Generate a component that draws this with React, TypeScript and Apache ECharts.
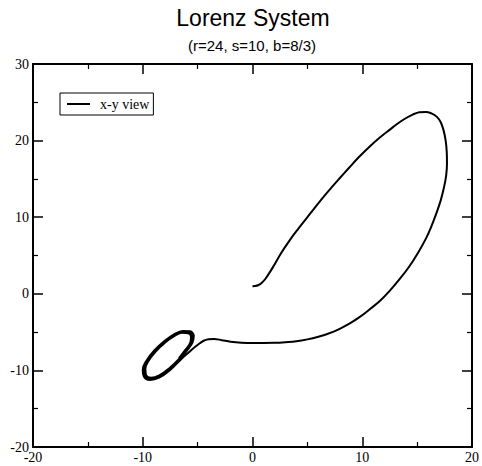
import React, { useEffect, useRef } from "react";
import * as echarts from "echarts";

const titleText = "Lorenz System";
const subtitleText = "(r=24, s=10, b=8/3)";
const seriesName = "x-y view";

const xTicks = [-20, -10, 0, 10, 20];
const yTicks = [-20, -10, 0, 10, 20, 30];

// Main excursion
const pathX = [0, 0.25, 0.55, 0.85, 1.2, 1.85, 2.6, 3.37, 4.15, 4.92, 5.65, 6.38, 7.15, 7.92, 8.8, 9.7, 10.66, 11.6, 12.48, 13.3, 14.0, 14.6, 15.2, 15.8, 16.3, 16.8, 17.15, 17.4, 17.6, 17.7, 17.72, 17.65, 17.45, 17.15, 16.75, 16.3, 15.8, 15.1, 14.3, 13.4, 12.48, 11.6, 10.66, 9.75, 8.83, 7.9, 7.0, 6.0, 5.0, 4.0, 3.0, 2.0, 1.0, 0.0, -1.0, -2.0, -2.8, -3.5, -4.0, -4.4, -4.8, -5.25, -5.74];
const pathY = [1, 1.02, 1.15, 1.45, 2.0, 3.45, 5.3, 6.95, 8.45, 9.85, 11.2, 12.5, 13.8, 15.05, 16.45, 17.85, 19.2, 20.4, 21.4, 22.3, 22.95, 23.4, 23.7, 23.75, 23.55, 23.1, 22.4, 21.4, 20.0, 18.5, 17.0, 15.5, 13.9, 12.2, 10.5, 8.8, 7.2, 5.4, 3.6, 1.9, 0.35, -0.95, -2.05, -3.05, -3.9, -4.6, -5.15, -5.6, -5.95, -6.2, -6.32, -6.4, -6.42, -6.42, -6.38, -6.25, -6.05, -5.9, -5.92, -6.1, -6.45, -6.95, -7.57];

// Spiral loops around the left fixed point
const loopX = [
  -6.55, -7.5, -8.5, -9.35, -9.9, -10.0, -9.65, -8.95, -8.05, -7.15, -6.35, -5.7, -5.35, -5.45, -5.85,
  -6.6, -7.55, -8.5, -9.3, -9.8, -9.88, -9.55, -8.88, -8.0, -7.12, -6.38, -5.78, -5.47, -5.55, -5.95,
  -6.65, -7.6, -8.5, -9.25, -9.7, -9.76, -9.45, -8.8, -7.95, -7.1, -6.42, -5.85, -5.6, -5.68, -6.05, -6.7,
];
const loopY = [
  -8.6, -9.95, -10.95, -11.25, -10.8, -9.9, -8.7, -7.4, -6.2, -5.3, -4.85, -4.9, -5.45, -6.3, -7.2,
  -8.5, -9.85, -10.8, -11.1, -10.7, -9.85, -8.7, -7.45, -6.28, -5.4, -4.97, -5.02, -5.55, -6.35, -7.2,
  -8.45, -9.75, -10.65, -10.95, -10.6, -9.8, -8.7, -7.5, -6.35, -5.5, -5.1, -5.15, -5.65, -6.4, -7.2, -8.4,
];

const SERIF = "'Liberation Serif', 'DejaVu Serif', serif";
const SANS = "'Liberation Sans', Arial, sans-serif";

function makeAxis(kind: "x" | "y", position: string, showLabel: boolean, ticks: number[]) {
  return {
    type: "value",
    position,
    min: ticks[0],
    max: ticks[ticks.length - 1],
    interval: 10,
    axisLine: { show: true, onZero: false, lineStyle: { color: "#000", width: 2 } },
    axisTick: { show: true, inside: true, length: 10, lineStyle: { color: "#000", width: 1.5 } },
    minorTick: { show: true, splitNumber: 2, length: 5, lineStyle: { color: "#000", width: 1.2 } },
    splitLine: { show: false },
    minorSplitLine: { show: false },
    axisLabel: {
      show: showLabel,
      color: "#000",
      fontFamily: SERIF,
      fontSize: 14,
      margin: kind === "x" ? 3 : 4,
      showMinLabel: true,
      showMaxLabel: true,
    },
  };
}

export default function App() {
  const ref = useRef<HTMLDivElement>(null);
  useEffect(() => {
    if (!ref.current) return;
    const chart = echarts.init(ref.current, undefined, { renderer: "svg" });
    const data: number[][] = [];
    pathX.forEach((x, i) => data.push([x, pathY[i]]));
    loopX.forEach((x, i) => data.push([x, loopY[i]]));
    chart.setOption({
      animation: false,
      backgroundColor: "#fff",
      grid: { left: 33, right: 10, top: 64, bottom: 19, containLabel: false },
      xAxis: [makeAxis("x", "bottom", true, xTicks), makeAxis("x", "top", false, xTicks)],
      yAxis: [makeAxis("y", "left", true, yTicks), makeAxis("y", "right", false, yTicks)],
      legend: {
        data: [seriesName],
        left: 60,
        top: 93,
        icon: "rect",
        itemWidth: 23,
        itemHeight: 2,
        padding: [4, 4, 4, 7],
        borderColor: "#000",
        borderWidth: 1,
        borderRadius: 0,
        textStyle: { fontFamily: SERIF, fontSize: 14, color: "#000", padding: [0, 0, 0, 5] },
      },
      graphic: [
        {
          type: "text",
          x: 253,
          y: 18,
          style: { text: titleText, font: `23px ${SANS}`, fill: "#000", align: "center", verticalAlign: "middle", textAlign: "center", textVerticalAlign: "middle" },
        },
        {
          type: "text",
          x: 252,
          y: 45,
          style: { text: subtitleText, font: `15px ${SANS}`, fill: "#000", align: "center", verticalAlign: "middle", textAlign: "center", textVerticalAlign: "middle" },
        },
      ],
      series: [
        {
          type: "line",
          name: seriesName,
          xAxisIndex: 0,
          yAxisIndex: 0,
          data,
          showSymbol: false,
          symbol: "none",
          smooth: 0.4,
          color: "#000",
          lineStyle: { color: "#000", width: 2 },
        },
      ],
    });
    return () => chart.dispose();
  }, []);
  return <div ref={ref} style={{ position: "fixed", left: 0, top: 0, width: 482, height: 466 }} />;
}
